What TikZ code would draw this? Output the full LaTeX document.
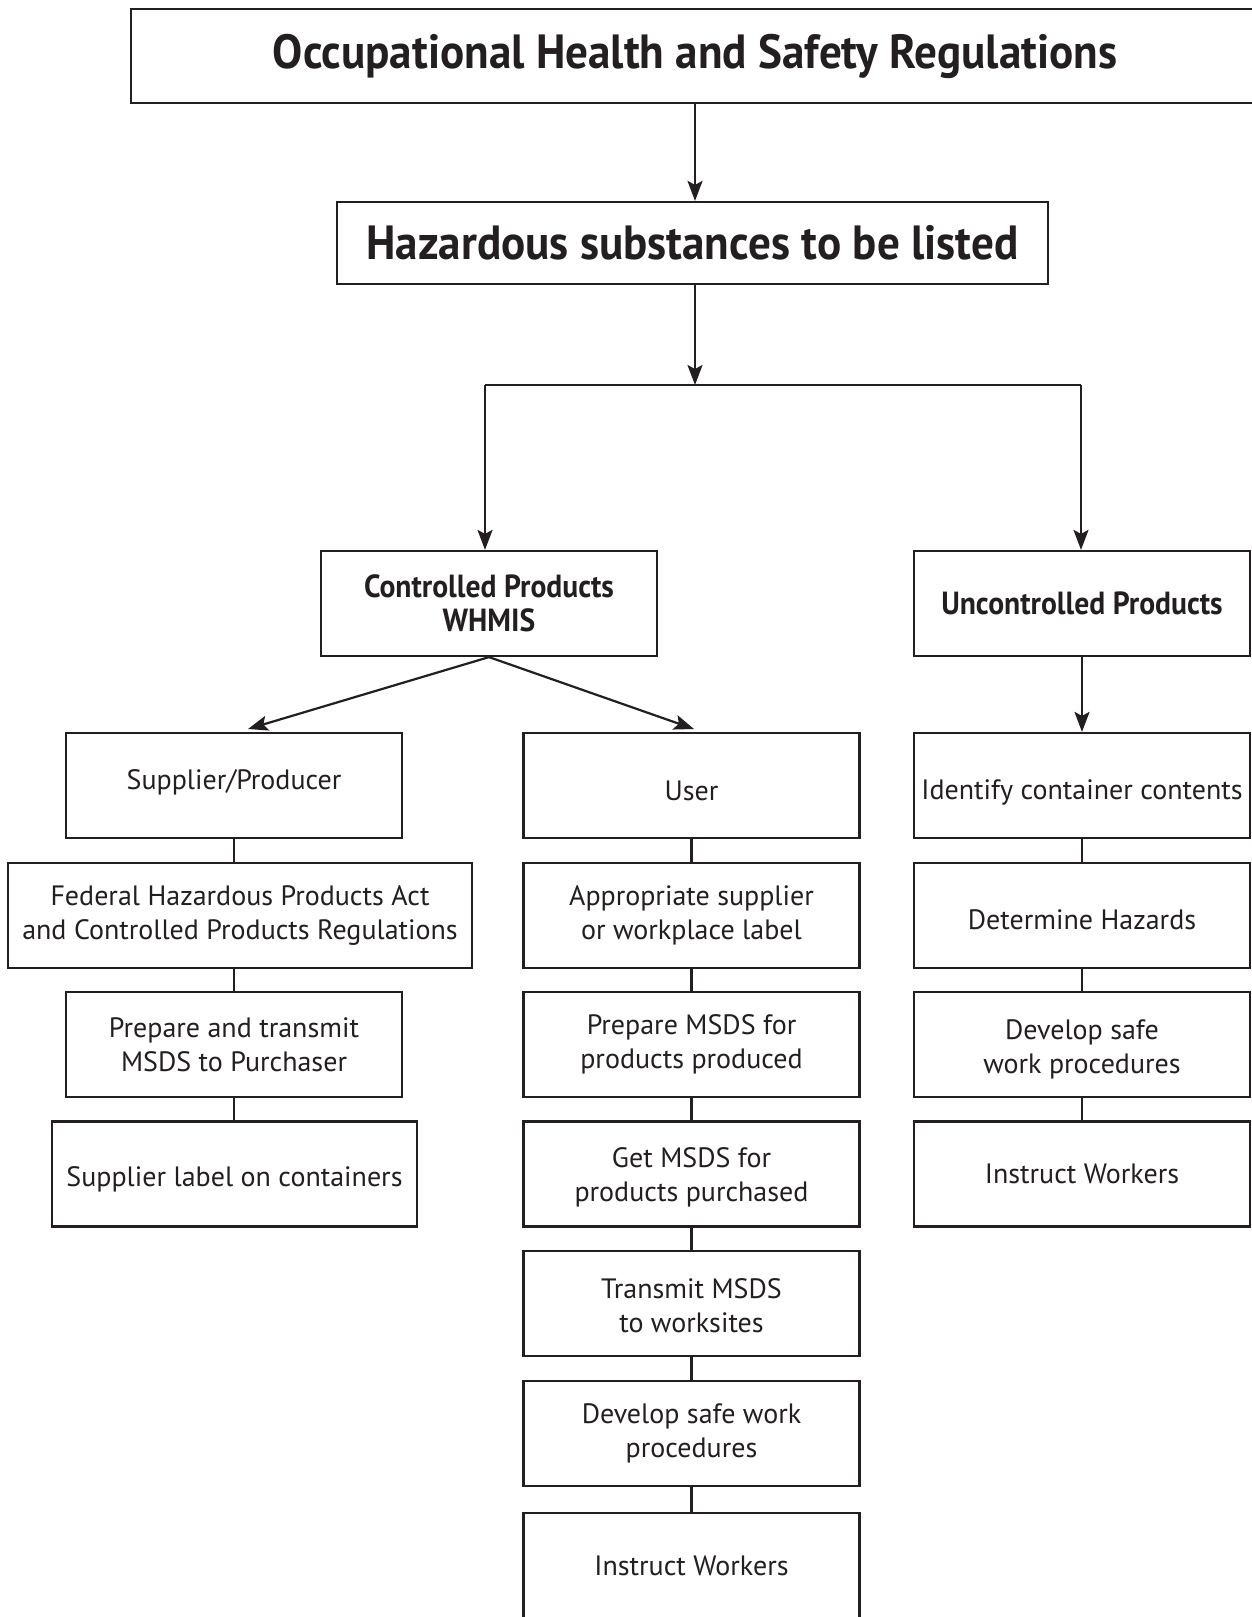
\documentclass[tikz,border=0pt]{standalone}
\usepackage{fontspec}
\setmainfont{PT Sans}
\newfontfamily\condfont[FakeStretch=0.94]{PT Sans}
\newfontfamily\catfont[FakeStretch=0.925]{PT Sans}
\usetikzlibrary{arrows.meta}
\definecolor{ink}{HTML}{231F20}
\newcommand{\dn}[2]{\raisebox{-#1}[\height][\depth]{\begin{tabular}{@{}c@{}}#2\end{tabular}}}
\newcommand{\sh}[2]{\raisebox{-#1}[\height][\depth]{#2}}
\begin{document}
\begin{tikzpicture}[x=0.5pt,y=-0.5pt,
  base/.style={draw=ink, line width=1.1pt, rectangle, inner sep=0pt, align=center, text=ink},
  box/.style={base, minimum width=168pt, minimum height=52.5pt, font=\fontsize{14}{17}\selectfont},
  titlebox/.style={base, minimum width=564pt, minimum height=47pt, font=\condfont\bfseries\fontsize{24}{28}\selectfont},
  hazbox/.style={base, minimum width=355.5pt, minimum height=41pt, font=\condfont\bfseries\fontsize{24}{28}\selectfont},
  catbox/.style={base, minimum width=168pt, minimum height=52.5pt, font=\catfont\bfseries\fontsize{16}{17}\selectfont},
  conn/.style={draw=ink, line width=1.1pt},
  arr/.style={conn, -{Stealth[length=10pt,width=7.5pt,inset=2pt]}}
]
\useasboundingbox (0,0) rectangle (1252,1617);
\fill[white] (0,0) rectangle (1252,1617);
\clip (0,0) rectangle (1252,1617);

% top
\node[titlebox] (ohs) at (695,56) {Occupational Health and Safety Regulations};
\node[hazbox] (haz) at (692.5,243) {Hazardous substances to be listed};
\node[catbox] (ctrl) at (489,603.5) {Controlled Products\\WHMIS};
\node[catbox] (unc) at (1082,603.5) {Uncontrolled Products};

% left column
\node[box] (sup) at (234,785.5) {\sh{-1.5pt}{Supplier/Producer}};
\node[box, minimum width=232pt] (fed) at (240,915.5) {Federal Hazardous Products Act\\and Controlled Products Regulations};
\node[box] (prep) at (234,1044.5) {Prepare and transmit\\MSDS to Purchaser};
\node[box, minimum width=182.5pt] (slab) at (234.5,1174) {\sh{2.6pt}{Supplier label on containers}};

% middle column
\node[box] (user) at (691.5,785.5) {\sh{2.6pt}{User}};
\node[box] (appr) at (691.5,915.5) {Appropriate supplier\\or workplace label};
\node[box] (prepm) at (691.5,1044.5) {Prepare MSDS for\\products produced};
\node[box] (getm) at (691.5,1174) {\dn{2pt}{Get MSDS for\\products purchased}};
\node[box] (trans) at (691.5,1303.5) {\dn{2.6pt}{Transmit MSDS\\to worksites}};
\node[box] (devm) at (691.5,1433.5) {Develop safe work\\procedures};
\node[box, minimum height=55pt] (instm) at (691.5,1568) {\sh{-1pt}{Instruct Workers}};

% right column
\node[box] (ident) at (1082,785.5) {\sh{3.6pt}{Identify container contents}};
\node[box] (det) at (1082,915.5) {\sh{2pt}{Determine Hazards}};
\node[box] (devr) at (1082,1044.5) {\dn{2.6pt}{Develop safe\\work procedures}};
\node[box] (instr) at (1082,1174) {Instruct Workers};

% arrows
\draw[arr] (ohs.south) -- (ohs.south |- haz.north);
\coordinate (bj) at (695,385);
\coordinate (bl) at (485,385);
\coordinate (br) at (1081,385);
\draw[arr] (bj |- haz.south) -- (bj);
\draw[conn] (bl) -- (br);
\draw[arr] (bl) -- (bl |- ctrl.north);
\draw[arr] (br) -- (br |- unc.north);
\coordinate (dl) at (248,729);
\coordinate (dr) at (694,729);
\draw[arr] (ctrl.south) -- (dl);
\draw[arr] (ctrl.south) -- (dr);
\draw[arr] (unc.south) -- (unc.south |- ident.north);

% connectors
\draw[conn] (sup.south) -- (sup.south |- fed.north);
\draw[conn] (sup.south |- fed.south) -- (sup.south |- prep.north);
\draw[conn] (prep.south) -- (prep.south |- slab.north);
\draw[conn] (user) -- (appr);
\draw[conn] (appr) -- (prepm);
\draw[conn] (prepm) -- (getm);
\draw[conn] (getm) -- (trans);
\draw[conn] (trans) -- (devm);
\draw[conn] (devm) -- (instm);
\draw[conn] (ident) -- (det);
\draw[conn] (det) -- (devr);
\draw[conn] (devr) -- (instr);
\end{tikzpicture}
\end{document}
